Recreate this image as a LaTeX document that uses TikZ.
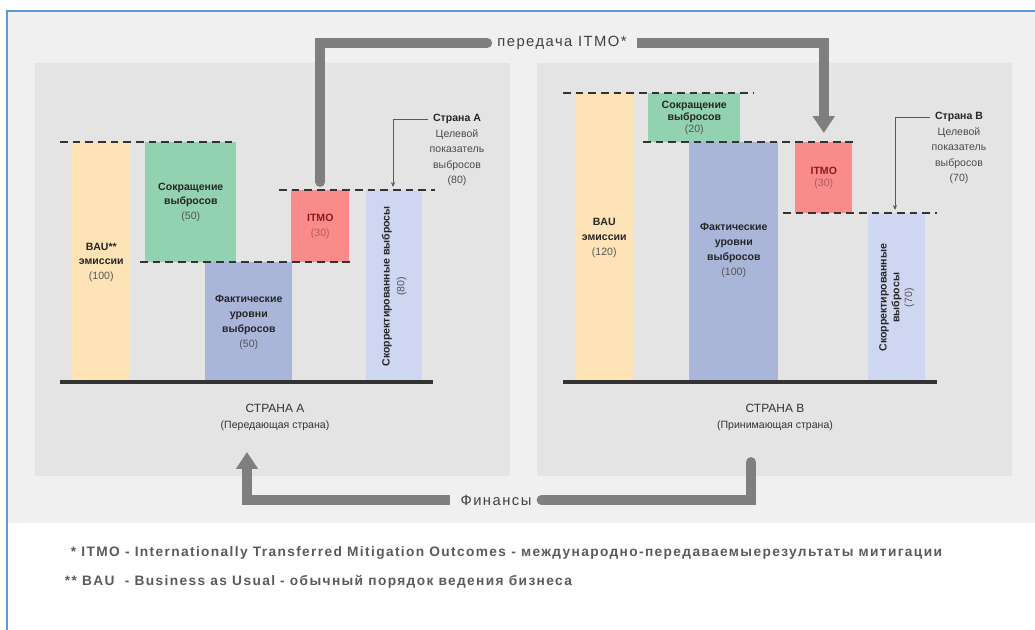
\documentclass[tikz,border=0pt]{standalone}
\usepackage{fontspec}
\setmainfont{Liberation Sans}
\newfontfamily\widefont[LetterSpace=10]{Liberation Sans}
\usepackage{tikz}
\usepackage{xcolor}
\usetikzlibrary{positioning, arrows.meta}
\definecolor{framebg}{HTML}{F0F0F0}
\definecolor{panelbg}{HTML}{E4E4E4}
\definecolor{framecol}{HTML}{5B9BD5}
\definecolor{baucol}{HTML}{FDE3B6}
\definecolor{cutcol}{HTML}{93D2B1}
\definecolor{actcol}{HTML}{A9B5D9}
\definecolor{itmocol}{HTML}{F98B8B}
\definecolor{adjcol}{HTML}{CED6F1}
\definecolor{arrowgray}{HTML}{7F7F7F}
\definecolor{levelcol}{HTML}{333333}
\definecolor{txtdark}{HTML}{262626}
\definecolor{numgray}{HTML}{555555}
\definecolor{itmotxt}{HTML}{8E1B1B}
\definecolor{notegray}{HTML}{5A5A5A}
\newcommand{\num}[1]{{\mdseries\color{numgray}#1}}
\tikzstyle{bar} = [rectangle, inner sep=0pt, anchor=north west, align=center, text=txtdark, font=\fontsize{7.5}{10.5}\selectfont\bfseries]
\tikzstyle{bau} = [bar, fill=baucol, minimum width=1.45cm]
\tikzstyle{cut} = [bar, fill=cutcol]
\tikzstyle{actual} = [bar, fill=actcol]
\tikzstyle{itmo} = [bar, fill=itmocol, minimum width=1.45cm, text=itmotxt]
\tikzstyle{adjusted} = [bar, fill=adjcol, minimum width=1.4cm]
\tikzstyle{bartext} = [align=center, text=txtdark, font=\fontsize{7.5}{10.5}\selectfont\bfseries]
\tikzstyle{level} = [levelcol, line width=2pt, dash pattern=on 5.5pt off 3.5pt]
\tikzstyle{ground} = [levelcol, line width=2.8pt]
\tikzstyle{flow} = [arrowgray, line width=7pt]
\tikzstyle{flowlabel} = [inner xsep=7pt, text=black!75, font=\widefont\fontsize{10.5}{12}\selectfont]
\tikzstyle{callout} = [black!65, line width=0.6pt, -{Stealth[length=3.5pt,width=3pt]}]
\tikzstyle{target} = [align=center, text=black!70, font=\fontsize{7.5}{11}\selectfont]
\tikzstyle{country} = [text=black!80, font=\fontsize{8.5}{10}\selectfont]
\tikzstyle{note} = [anchor=west, text=notegray, font=\widefont\fontsize{9.75}{11}\selectfont\bfseries]

\begin{document}
\begin{tikzpicture}[x=0.025cm, y=-0.025cm]
\useasboundingbox (0,0) rectangle (1035,630);

% Frame and panels
\fill[framebg] (7,11) rectangle (1035,523);
\draw[framecol, line width=1.4pt] (7,640) -- (7,11) -- (1040,11);
\fill[panelbg] (35,63) rectangle (510,476);
\fill[panelbg] (537,63) rectangle (1012,476);

% Country A
\node (bauA) [bau, minimum height=6cm] at (72,142) {BAU**\\эмиссии\\\num{(100)}};
\node (cutA) [cut, minimum width=2.275cm, minimum height=3cm] at (145,142) {Сокращение\\выбросов\\\num{(50)}};
\node (actA) [actual, minimum width=2.175cm, minimum height=3cm] at (205,262) {Фактические\\уровни\\выбросов\\\num{(50)}};
\node (itmoA) [itmo, minimum height=1.8cm] at (291,190) {ITMO\\{\mdseries\color{itmotxt!70}(30)}};
\node (adjA) [adjusted, minimum height=4.8cm] at (366,190) {};
\node (adjAtxt) [bartext, rotate=90] at (adjA.center) {Скорректированные выбросы\\\num{(80)}};
\draw[level] (60,142) -- (237,142);
\draw[level] (140,262) -- (355,262);
\draw[level] (279,190) -- (435,190);
\draw[ground] (60,382) -- (433,382);
\node (titleA) [target, font=\fontsize{7.5}{11}\selectfont\bfseries, text=black!85] at (457,119) {Страна А};
\node (goalA) [target, below=-3pt of titleA] {Целевой\\показатель\\выбросов\\(80)};
\coordinate (tgtA) at (393,187);
\draw[callout] (titleA.west) -| (tgtA);
\node (countryA) [country] at (275,408) {СТРАНА А};
\node (roleA) [country, font=\fontsize{7.5}{9}\selectfont, below=-1pt of countryA] {(Передающая страна)};

% Country B
\node (bauB) [bau, minimum height=7.225cm] at (575,93) {BAU\\эмиссии\\\num{(120)}};
\node (cutB) [cut, minimum width=2.3cm, minimum height=1.225cm, font=\fontsize{7.5}{8.5}\selectfont\bfseries] at (648,93) {Сокращение\\выбросов\\\num{(20)}};
\node (actB) [actual, minimum width=2.225cm, minimum height=6cm] at (689,142) {};
\node (actBtxt) [bartext, yshift=0.3cm] at (actB.center) {Фактические\\уровни\\выбросов\\\num{(100)}};
\node (itmoB) [itmo, minimum width=1.425cm, minimum height=1.775cm, font=\fontsize{7.5}{8.5}\selectfont\bfseries] at (795,142) {ITMO\\{\mdseries\color{itmotxt!70}(30)}};
\node (adjB) [adjusted, minimum width=1.425cm, minimum height=4.225cm] at (868,213) {};
\node (adjBtxt) [bartext, rotate=90, font=\fontsize{7.5}{9}\selectfont\bfseries] at (adjB.center) {Скорректированные\\выбросы\\\num{(70)}};
\draw[level] (563,93) -- (753,93);
\draw[level] (643,142) -- (858,142);
\draw[level] (783,213) -- (937,213);
\draw[ground] (563,382) -- (937,382);
\node (titleB) [target, font=\fontsize{7.5}{11}\selectfont\bfseries, text=black!85] at (959,117) {Страна В};
\node (goalB) [target, below=-3pt of titleB] {Целевой\\показатель\\выбросов\\(70)};
\coordinate (tgtB) at (895,210);
\draw[callout] (titleB.west) -| (tgtB);
\node (countryB) [country] at (775,408) {СТРАНА В};
\node (roleB) [country, font=\fontsize{7.5}{9}\selectfont, below=-1pt of countryB] {(Принимающая страна)};

% Transfers
\node (lblitmo) [flowlabel] at (562,43) {передача ITMO*};
\draw[flow, line cap=round] ([yshift=0.2cm]itmoA.north) |- (lblitmo.west);
\draw[flow, -{Triangle[width=15pt,length=12pt]}] (lblitmo.east) -| ([yshift=0.225cm]itmoB.north);
\node (lblfin) [flowlabel] at (496,500) {Финансы};
\coordinate (finstart) at (751,462);
\coordinate (finend) at (247,452);
\draw[flow, line cap=round] (finstart) |- (lblfin.east);
\draw[flow, -{Triangle[width=15pt,length=12pt]}] (lblfin.west) -| (finend);

% Notes
\node (noteitmo) [note] at (66,553) {* ITMO - Internationally Transferred Mitigation Outcomes - международно-передаваемыерезультаты митигации};
\node (notebau) [note] at (60,582) {** BAU\ \ - Business as Usual - обычный порядок ведения бизнеса};

\end{tikzpicture}
\end{document}
